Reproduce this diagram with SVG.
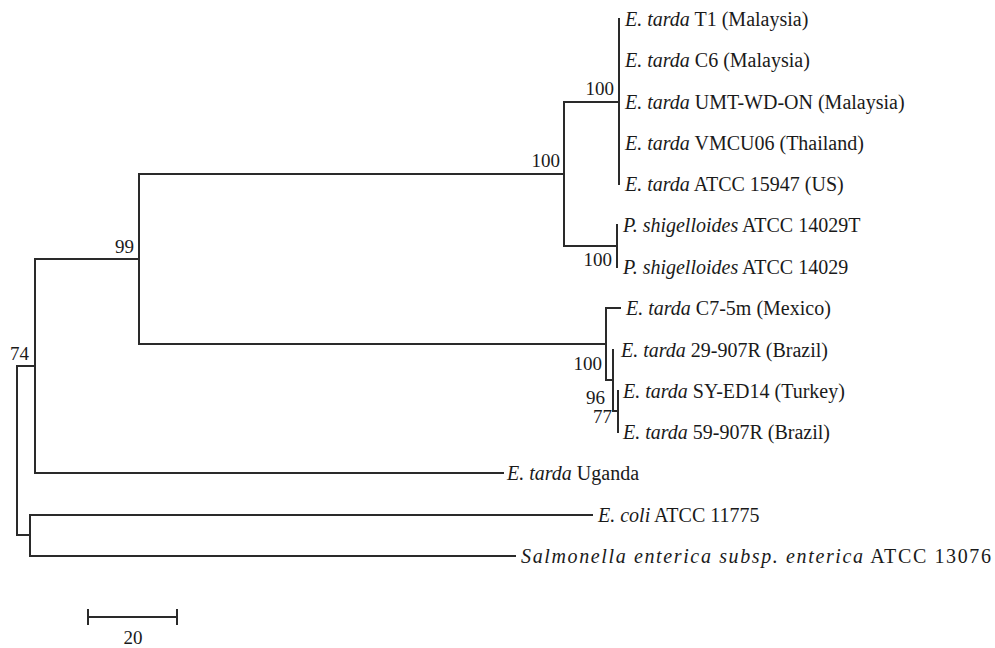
<svg xmlns="http://www.w3.org/2000/svg" width="995" height="648" viewBox="0 0 995 648">
<style>
.br{fill:none;stroke:#2a2a2a;stroke-width:2;stroke-linecap:square}
.tx{font-family:"Liberation Serif","Times New Roman",serif;font-size:20px;fill:#1a1a1a}
.bs{font-family:"Liberation Serif","Times New Roman",serif;font-size:19px;fill:#1a1a1a;text-anchor:end}
.i{font-style:italic}
</style>
<rect width="995" height="648" fill="#ffffff"/>
<g id="connectors">
<path class="br" d="M17,366 V535 M17,366 H35 M17,535 H30"/>
<path class="br" d="M35,259 V473 M35,259 H139 M35,473 H503"/>
<path class="br" d="M30,515 V556 M30,515 H592 M30,556 H515"/>
<path class="br" d="M139,174 V344 M139,174 H564 M139,344 H606"/>
<path class="br" d="M564,102 V246 M564,102 H619 M564,246 H617"/>
<path class="br" d="M619,19 V184"/>
<path class="br" d="M617,225 V267"/>
<path class="br" d="M606,308 V380 M606,308 H620 M606,380 H613"/>
<path class="br" d="M613,350 V411 M613,411 H618"/>
<path class="br" d="M618,391 V432"/>
</g>
<g id="taxon-t1"><text class="tx" x="625" y="26"><tspan class="i">E. tarda</tspan> T1 (Malaysia)</text></g>
<g id="taxon-c6"><text class="tx" x="625" y="67"><tspan class="i">E. tarda</tspan> C6 (Malaysia)</text></g>
<g id="taxon-umt"><text class="tx" x="625" y="109"><tspan class="i">E. tarda</tspan> UMT-WD-ON (Malaysia)</text></g>
<g id="taxon-vmcu06"><text class="tx" x="625" y="150"><tspan class="i">E. tarda</tspan> VMCU06 (Thailand)</text></g>
<g id="taxon-atcc15947"><text class="tx" x="625" y="191"><tspan class="i">E. tarda</tspan> ATCC 15947 (US)</text></g>
<g id="taxon-ps14029t"><text class="tx" x="623" y="232"><tspan class="i">P. shigelloides</tspan> ATCC 14029T</text></g>
<g id="taxon-ps14029"><text class="tx" x="623" y="274"><tspan class="i">P. shigelloides</tspan> ATCC 14029</text></g>
<g id="taxon-c7"><text class="tx" x="626" y="315"><tspan class="i">E. tarda</tspan> C7-5m (Mexico)</text></g>
<g id="taxon-29907r"><text class="tx" x="621" y="357"><tspan class="i">E. tarda</tspan> 29-907R (Brazil)</text></g>
<g id="taxon-syed14"><text class="tx" x="623" y="398"><tspan class="i">E. tarda</tspan> SY-ED14 (Turkey)</text></g>
<g id="taxon-59907r"><text class="tx" x="623" y="439"><tspan class="i">E. tarda</tspan> 59-907R (Brazil)</text></g>
<g id="taxon-uganda"><text class="tx" x="507" y="480"><tspan class="i">E. tarda</tspan> Uganda</text></g>
<g id="taxon-ecoli"><text class="tx" x="598" y="522"><tspan class="i">E. coli</tspan> ATCC 11775</text></g>
<g id="taxon-salmonella"><text class="tx" x="521" y="563" textLength="470" lengthAdjust="spacing"><tspan class="i">Salmonella enterica subsp. enterica</tspan> ATCC 13076</text></g>
<g id="node-99"><text class="bs" x="134" y="253">99</text></g>
<g id="node-74"><text class="bs" x="29" y="360">74</text></g>
<g id="node-100a"><text class="bs" x="560" y="167">100</text></g>
<g id="node-100b"><text class="bs" x="614" y="95">100</text></g>
<g id="node-100c"><text class="bs" x="612" y="266">100</text></g>
<g id="node-100d"><text class="bs" x="602" y="370">100</text></g>
<g id="node-96"><text class="bs" x="605" y="404">96</text></g>
<g id="node-77"><text class="bs" x="612" y="423">77</text></g>
<g id="scale-bar">
<path class="br" d="M88,617 H177 M88,610 V624 M177,610 V624"/>
<text class="tx" x="133" y="644" text-anchor="middle" style="font-size:19px">20</text>
</g>
</svg>
